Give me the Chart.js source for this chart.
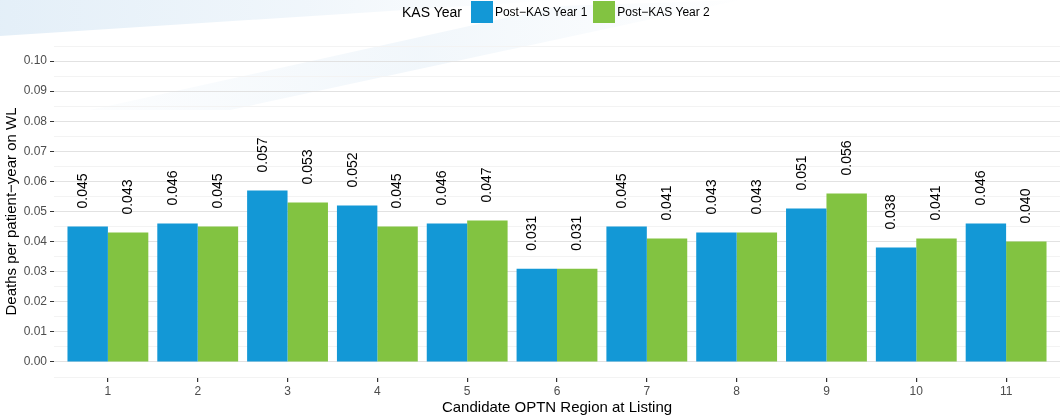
<!DOCTYPE html>
<html>
<head>
<meta charset="utf-8">
<script src="https://cdn.jsdelivr.net/npm/chart.js@4.4.0/dist/chart.umd.min.js"></script>
<style>
  body { margin: 0; background: #fff; }
  #wrap { position: relative; width: 1061px; height: 417px; overflow: hidden; }
  #swoosh {
    position: absolute; left: 0; top: 0; width: 560px; height: 40px;
    clip-path: polygon(0 0, 560px 0, 0 36px);
    background: linear-gradient(to right, rgba(216,232,245,0.7), rgba(228,239,248,0.55) 55%, rgba(255,255,255,0));
  }
  #swoosh2 {
    position: absolute; left: 0; top: 0; width: 760px; height: 110px;
    clip-path: polygon(90px 110px, 560px 6px, 740px 0, 230px 110px);
    background: linear-gradient(to right, rgba(236,244,250,0), rgba(230,240,248,0.55) 55%, rgba(255,255,255,0));
  }
  canvas { position: absolute; left: 0; top: 0; }
  #legend {
    position: absolute; top: 0; left: 402px; height: 23px;
    display: flex; align-items: center;
    font-family: "Liberation Sans", Arial, sans-serif; color: #000;
  }
  #legend .ttl { font-size: 14px; margin-right: 9px; }
  #legend .sw { width: 22px; height: 22px; margin-right: 2px; }
  #legend .lb { font-size: 12px; margin-right: 6px; }
</style>
</head>
<body>
<div id="wrap">
  <div id="swoosh"></div>
  <div id="swoosh2"></div>
  <canvas id="chart" width="1061" height="417"></canvas>
  <div id="legend"></div>
</div>
<script>
var regions = ['1', '2', '3', '4', '5', '6', '7', '8', '9', '10', '11'];
var year1 = [0.045, 0.046, 0.057, 0.052, 0.046, 0.031, 0.045, 0.043, 0.051, 0.038, 0.046];
var year2 = [0.043, 0.045, 0.053, 0.045, 0.047, 0.031, 0.041, 0.043, 0.056, 0.041, 0.040];
var seriesNames = ['Post\u2212KAS Year 1', 'Post\u2212KAS Year 2'];
var seriesColors = ['#1398d6', '#82c341'];
var legendTitle = 'KAS Year';
var yTickValues = [0.00, 0.01, 0.02, 0.03, 0.04, 0.05, 0.06, 0.07, 0.08, 0.09, 0.10];

// legend (html, title to the left of the keys)
var leg = document.getElementById('legend');
leg.innerHTML = '<span class="ttl">' + legendTitle + '</span>';
for (var s = 0; s < seriesNames.length; s++) {
    leg.innerHTML += '<span class="sw" style="background:' + seriesColors[s] + '"></span>' +
        '<span class="lb">' + seriesNames[s] + '</span>';
}

function toPoints(values) {
    return values.map(function (v, i) { return { x: i + 1, y: v }; });
}

function isMajor(v) {
    return yTickValues.some(function (t) { return Math.abs(t - v) < 1e-9; });
}

var labelShift = [-4.5, 0];

var valueLabels = {
    id: 'valueLabels',
    afterDatasetsDraw: function (chart) {
        var ctx = chart.ctx;
        chart.data.datasets.forEach(function (ds, di) {
            var meta = chart.getDatasetMeta(di);
            meta.data.forEach(function (bar, i) {
                ctx.save();
                ctx.translate(bar.x + labelShift[di], bar.y - 18);
                ctx.rotate(-Math.PI / 2);
                ctx.font = '14px "Liberation Sans", Arial, sans-serif';
                ctx.fillStyle = '#000';
                ctx.textAlign = 'left';
                ctx.textBaseline = 'middle';
                ctx.fillText(ds.data[i].y.toFixed(3), 0, 0);
                ctx.restore();
            });
        });
    }
};

var ctx = document.getElementById('chart').getContext('2d');
var chart = new Chart(ctx, {
    type: 'bar',
    data: {
        datasets: [{
            label: seriesNames[0],
            data: toPoints(year1),
            backgroundColor: seriesColors[0]
        }, {
            label: seriesNames[1],
            data: toPoints(year2),
            backgroundColor: seriesColors[1]
        }]
    },
    options: {
        responsive: false,
        animation: false,
        layout: { padding: { top: 46, right: 1, left: 0, bottom: 0 } },
        datasets: { bar: { categoryPercentage: 0.9, barPercentage: 1.0 } },
        plugins: { legend: { display: false }, tooltip: { enabled: false } },
        scales: {
            x: {
                type: 'linear',
                min: 0.4,
                max: 11.6,
                offset: false,
                afterBuildTicks: function (scale) {
                    scale.ticks = regions.map(function (r, i) { return { value: i + 1 }; });
                },
                afterFit: function (scale) { scale.height = 40; },
                border: { display: false },
                grid: { offset: false, drawOnChartArea: false, tickLength: 5, tickColor: '#333', lineWidth: 1.2 },
                ticks: {
                    autoSkip: false,
                    maxRotation: 0,
                    padding: 2,
                    color: '#4d4d4d',
                    font: { family: '"Liberation Sans", Arial, sans-serif', size: 12 },
                    callback: function (v) { return regions[Math.round(v) - 1]; }
                },
                title: {
                    display: true,
                    text: 'Candidate OPTN Region at Listing',
                    color: '#000',
                    font: { family: '"Liberation Sans", Arial, sans-serif', size: 15 },
                    padding: { top: -1, bottom: 0 }
                }
            },
            y: {
                min: -0.005,
                max: 0.105,
                afterBuildTicks: function (scale) {
                    var t = [];
                    for (var i = -1; i <= 21; i++) t.push({ value: i * 5 / 1000 });
                    scale.ticks = t;
                },
                afterFit: function (scale) { scale.width = 54; },
                border: { display: false },
                grid: {
                    tickLength: 4,
                    lineWidth: 1,
                    color: function (c) { return isMajor(c.tick.value) ? '#e2e2e2' : '#f3f3f3'; },
                    tickColor: function (c) { return isMajor(c.tick.value) ? '#333' : 'rgba(0,0,0,0)'; }
                },
                ticks: {
                    autoSkip: false,
                    padding: 3,
                    color: '#4d4d4d',
                    font: { family: '"Liberation Sans", Arial, sans-serif', size: 12 },
                    callback: function (v) { return isMajor(v) ? v.toFixed(2) : ''; }
                },
                title: {
                    display: true,
                    text: 'Deaths per patient\u2212year on WL',
                    color: '#000',
                    font: { family: '"Liberation Sans", Arial, sans-serif', size: 15 },
                    padding: { top: 3, bottom: 0 }
                }
            }
        }
    },
    plugins: [valueLabels]
});
</script>
</body>
</html>
